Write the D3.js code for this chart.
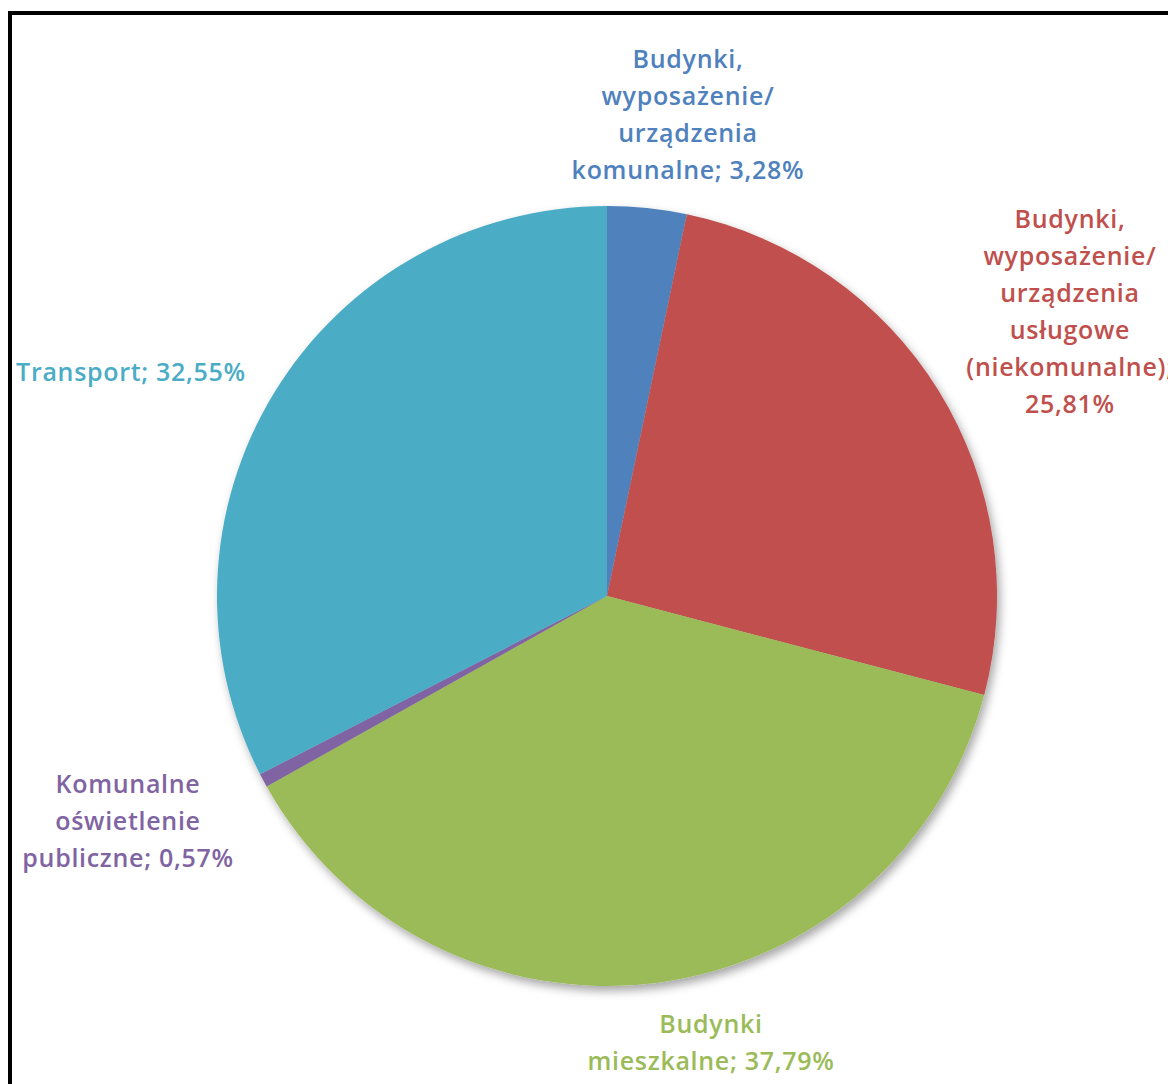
<!DOCTYPE html>
<html><head><meta charset="utf-8">
<script src="https://cdn.jsdelivr.net/npm/d3@7"></script>
<style>html,body{margin:0;padding:0;background:#fff;overflow:hidden}</style>
</head><body>
<svg id="c" width="1168" height="1084"></svg>
<script>
const categories = [
  "Budynki, wyposażenie/ urządzenia komunalne",
  "Budynki, wyposażenie/ urządzenia usługowe (niekomunalne)",
  "Budynki mieszkalne",
  "Komunalne oświetlenie publiczne",
  "Transport"
];
const values = [3.28, 25.81, 37.79, 0.57, 32.55];
const valueLabels = ["3,28%", "25,81%", "37,79%", "0,57%", "32,55%"];
const labelLines = [
  ["Budynki,", "wyposażenie/", "urządzenia", "komunalne; 3,28%"],
  ["Budynki,", "wyposażenie/", "urządzenia", "usługowe", "(niekomunalne);", "25,81%"],
  ["Budynki", "mieszkalne; 37,79%"],
  ["Komunalne", "oświetlenie", "publiczne; 0,57%"],
  ["Transport; 32,55%"]
];
const colors = ["#4F81BD", "#C0504D", "#9BBB59", "#8064A2", "#4BACC6"];

const svg = d3.select("#c");
const defs = svg.append("defs");
const f = defs.append("filter").attr("id","sh").attr("x","-20%").attr("y","-20%").attr("width","140%").attr("height","140%");
f.append("feDropShadow").attr("dx",3).attr("dy",5).attr("stdDeviation",5).attr("flood-color","#000").attr("flood-opacity",0.35);

// frame
svg.append("rect").attr("x",10).attr("y",13).attr("width",1200).attr("height",1200)
  .attr("fill","none").attr("stroke","#000").attr("stroke-width",4);

const cx = 607, cy = 596, R = 390;
const pie = d3.pie().sort(null).value(d => d)(values);
const arc = d3.arc().innerRadius(0).outerRadius(R);
const g = svg.append("g").attr("transform",`translate(${cx},${cy})`);
const sg = g.append("g").attr("filter","url(#sh)");
sg.selectAll("path").data(pie).join("path")
  .attr("d", arc).attr("fill",(d,i)=>colors[i]);

// label positions (center x, first line y) relative to page
const labelPos = [[688, 59], [1070, 219], [711, 1024], [128, 784], [131, 372]];
const lh = 37;
labelLines.forEach((lines,i)=>{
  const t = svg.append("text").attr("text-anchor","middle")
    .attr("font-family","'Open Sans', sans-serif").attr("font-weight",600)
    .attr("font-size",25).attr("letter-spacing",0.7).attr("fill",colors[i]);
  lines.forEach((ln,j)=>{
    t.append("tspan").attr("x",labelPos[i][0]).attr("y",labelPos[i][1]+j*lh).attr("dy","0.35em").text(ln);
  });
});
</script>
</body></html>
